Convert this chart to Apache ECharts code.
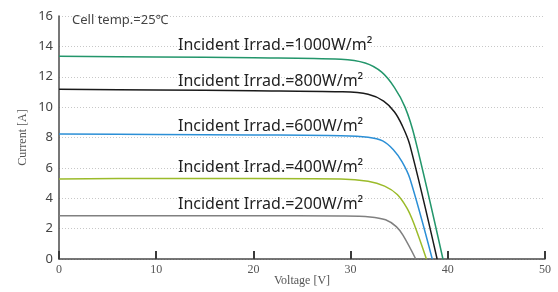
<!DOCTYPE html>
<html>
<head>
<meta charset="utf-8">
<script src="https://cdn.jsdelivr.net/npm/echarts@6/dist/echarts.min.js"></script>
<style>
  html, body { margin: 0; padding: 0; background: #fff; }
  #chart { width: 558px; height: 292px; }
</style>
</head>
<body>
<div id="chart"></div>
<script>
// I-V curves (voltage V, current A)
const v1000 = [0, 10, 20, 29, 31.5, 33.2, 34.5, 35.6, 36.6, 39.5];
const i1000 = [13.35, 13.3, 13.25, 13.15, 12.9, 12.3, 11.3, 10.0, 8.0, 0];

const v800 = [0, 10, 20, 29, 31.8, 33.4, 34.5, 35.3, 36.1, 38.9];
const i800 = [11.17, 11.13, 11.08, 11.01, 10.85, 10.4, 9.7, 8.8, 7.5, 0];

const v600 = [0, 10, 20, 29, 31.8, 33.3, 34.4, 35.3, 36.1, 38.4];
const i600 = [8.23, 8.2, 8.17, 8.12, 8.02, 7.78, 7.2, 6.4, 5.3, 0];

const v400 = [0, 10, 20, 29, 31.8, 33.5, 34.8, 35.8, 36.5, 37.8];
const i400 = [5.27, 5.3, 5.3, 5.27, 5.12, 4.8, 4.25, 3.35, 2.35, 0];

const v200 = [0, 10, 20, 29, 32, 33.6, 34.7, 35.4, 36.7];
const i200 = [2.85, 2.85, 2.85, 2.83, 2.77, 2.58, 2.13, 1.55, 0];

const curveNames = ['Incident Irrad.=1000W/m²', 'Incident Irrad.=800W/m²', 'Incident Irrad.=600W/m²',
                    'Incident Irrad.=400W/m²', 'Incident Irrad.=200W/m²'];
const labelV = [12.24, 12.24, 12.24, 12.24, 12.24];
const labelI = [14.05, 11.7, 8.76, 6.0, 3.62];
const colors = ['#23966b', '#1a1a1a', '#2b8fd6', '#9bbb2a', '#808080'];

function pairs(vs, is) {
    return vs.map((v, k) => [v, is[k]]);
}

const curves = [pairs(v1000, i1000), pairs(v800, i800), pairs(v600, i600), pairs(v400, i400), pairs(v200, i200)];

const chart = echarts.init(document.getElementById('chart'));

const serif = 'Liberation Serif';
const sans = 'Noto Sans';

const option = {
    animation: false,
    title: {
        text: 'Cell temp.=25℃',
        left: 72,
        top: 14,
        padding: 0,
        textStyle: { fontFamily: sans, fontSize: 13, fontWeight: 'normal', color: '#444' }
    },
    grid: { left: 59, right: 13, top: 16, bottom: 33, containLabel: false, outerBoundsMode: 'none' },
    xAxis: {
        type: 'value',
        min: 0,
        max: 50,
        interval: 10,
        name: 'Voltage [V]',
        nameLocation: 'middle',
        nameGap: 16,
        nameMoveOverlap: false,
        nameTextStyle: { fontFamily: serif, fontSize: 12, color: '#555' },
        axisLine: { show: true, onZero: false, lineStyle: { color: '#4a4a4a', width: 1.5 } },
        axisTick: { show: true, inside: true, length: 8, lineStyle: { color: '#3a3a3a', width: 2 } },
        axisLabel: { fontFamily: serif, fontSize: 12, color: '#555', margin: 5 },
        splitLine: { show: false }
    },
    yAxis: {
        type: 'value',
        min: 0,
        max: 16,
        interval: 2,
        name: 'Current [A]',
        nameLocation: 'middle',
        nameGap: 30,
        nameMoveOverlap: false,
        nameTextStyle: { fontFamily: serif, fontSize: 12, color: '#555' },
        axisLine: { show: true, lineStyle: { color: '#4a4a4a', width: 1.5 } },
        axisTick: { show: false },
        axisLabel: { fontFamily: sans, fontSize: 13, color: '#444', margin: 6 },
        splitLine: {
            show: true,
            lineStyle: { color: '#c8c8c8', type: [1, 2], width: 1 }
        }
    },
    series: curves.map((data, k) => ({
        type: 'line',
        data: data,
        smooth: 0.35,
        symbol: 'none',
        lineStyle: { color: colors[k], width: 1.5 },
        markPoint: {
            symbol: 'circle',
            symbolSize: 0,
            silent: true,
            label: {
                show: true,
                position: 'right',
                distance: 0,
                formatter: curveNames[k],
                fontFamily: sans,
                fontSize: 16,
                color: '#222'
            },
            data: [{ coord: [labelV[k], labelI[k]] }]
        }
    }))
};

option && chart.setOption(option);
</script>
</body>
</html>
